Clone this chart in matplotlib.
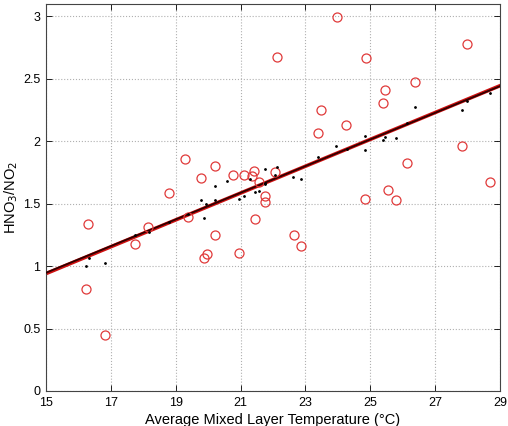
import numpy as np
import matplotlib
matplotlib.use('Agg')
import matplotlib.pyplot as plt

plt.rcParams['font.family'] = ['Liberation Sans', 'DejaVu Sans']

# observed ratios (red circles)
obs_temp = [16.22, 16.30, 16.83, 17.74, 18.16, 18.79, 19.38, 19.29, 19.77, 20.21,
            20.76, 21.10, 21.40, 21.35, 21.56, 21.74, 21.76, 21.43, 22.06, 20.21,
            19.96, 19.87, 20.94, 22.13, 23.96, 24.86, 27.97, 26.37, 25.44, 25.39,
            23.48, 24.24, 23.38, 27.83, 26.14, 28.70, 24.84, 25.55, 25.79, 22.64,
            22.86]
obs_ratio = [0.82, 1.34, 0.45, 1.18, 1.315, 1.583, 1.393, 1.86, 1.708, 1.804,
             1.732, 1.729, 1.761, 1.721, 1.676, 1.564, 1.511, 1.377, 1.756, 1.249,
             1.094, 1.067, 1.102, 2.672, 2.997, 2.671, 2.776, 2.474, 2.41, 2.303,
             2.247, 2.13, 2.066, 1.964, 1.823, 1.676, 1.537, 1.607, 1.527, 1.249,
             1.161]

# modelled ratios (black dots)
mod_temp = [16.22, 16.31, 16.83, 17.74, 18.17, 18.79, 19.38, 19.78, 19.86, 19.94,
            20.21, 20.21, 20.59, 20.95, 21.11, 21.30, 21.43, 21.56, 21.74, 21.74,
            21.75, 22.12, 22.07, 22.63, 22.85, 23.38, 23.94, 24.27, 24.85, 24.85,
            25.40, 25.45, 25.79, 26.14, 26.37, 27.83, 27.97, 28.70]
mod_ratio = [1.003, 1.067, 1.027, 1.252, 1.273, 1.356, 1.415, 1.529, 1.385, 1.497,
             1.644, 1.529, 1.681, 1.537, 1.559, 1.695, 1.591, 1.601, 1.655, 1.775,
             1.663, 1.798, 1.732, 1.713, 1.700, 1.874, 1.962, 1.938, 2.039, 1.932,
             2.010, 2.036, 2.028, 2.143, 2.276, 2.247, 2.322, 2.384]

# linear fits (slope, intercept)
fit_obs = [0.1075, -0.672]
fit_mod = [0.1068, -0.655]

x_ticks = [15, 17, 19, 21, 23, 25, 27, 29]
y_ticks = [0, 0.5, 1, 1.5, 2, 2.5, 3]

fig = plt.figure(figsize=(5.08, 4.26), dpi=100)
ax = fig.add_axes([0.0906, 0.0822, 0.8937, 0.9084])

xx = np.array([15, 29])
ax.plot(xx, np.polyval(fit_obs, xx), color='#d01010', lw=2.6, zorder=2)
ax.plot(xx, np.polyval(fit_mod, xx), color='#300000', lw=1.3, zorder=3)

ax.plot(obs_temp, obs_ratio, 'o', mfc='none', mec='#e03a3a', ms=6.5, mew=0.9, zorder=4)
ax.plot(mod_temp, mod_ratio, '.', color='black', ms=2, zorder=5)

ax.set_xlim(15, 29)
ax.set_ylim(0, 3.1)
ax.set_xticks(x_ticks)
ax.set_yticks(y_ticks)
ax.set_yticklabels(['0', '0.5', '1', '1.5', '2', '2.5', '3'])
ax.grid(True, linestyle=':', color='#b0b0b0', linewidth=0.8)
ax.tick_params(direction='in', top=True, right=True, labelsize=9, length=4, width=0.6, pad=4)
for s in ax.spines.values():
    s.set_linewidth(0.8)
    s.set_color('#444444')

ax.set_xlabel('Average Mixed Layer Temperature (\u00b0C)', fontsize=10.5, labelpad=3)
ax.set_ylabel('HNO$_3$/NO$_2$', fontsize=10.5, labelpad=2)

fig.savefig('out.png', dpi=100)
